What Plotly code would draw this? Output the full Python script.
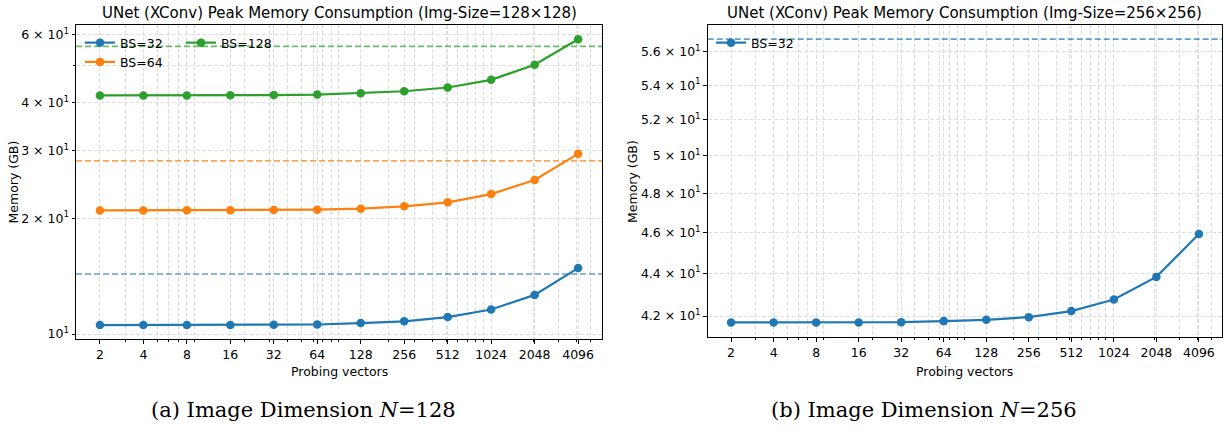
import math
import plotly.graph_objects as go

# Probing vector counts (x axis) and their tick labels
probes = [2, 4, 8, 16, 32, 64, 128, 256, 512, 1024, 2048, 4096]
probe_labels = [str(p) for p in probes]

# Peak memory (GB), image size 128x128
mem128_bs32 = [10.55, 10.55, 10.55, 10.56, 10.57, 10.59, 10.68, 10.79, 11.07, 11.58, 12.64, 14.84]
mem128_bs64 = [20.96, 20.96, 20.97, 20.98, 21.00, 21.05, 21.18, 21.48, 22.00, 23.11, 25.15, 29.40]
mem128_bs128 = [41.70, 41.70, 41.71, 41.72, 41.80, 41.91, 42.25, 42.76, 43.72, 45.78, 50.11, 58.35]
# Reference memory levels (dashed lines), image size 128x128: BS=32, BS=64, BS=128
ref128 = [14.32, 28.18, 55.94]

# Peak memory (GB), image size 256x256
mem256_bs32 = [41.71, 41.71, 41.71, 41.71, 41.72, 41.77, 41.83, 41.95, 42.23, 42.76, 43.83, 45.92]
ref256 = [56.77]

series_names = ["BS=32", "BS=64", "BS=128"]
colors = ["#1f77b4", "#ff7f0e", "#2ca02c"]
ref_colors = ["rgba(31,119,180,0.7)", "rgba(255,127,14,0.7)", "rgba(44,160,44,0.7)"]

# Y tick values / labels
yticks_128 = [10, 20, 30, 40, 60]
yticklabels_128 = ["10<sup>1</sup>", "2 × 10<sup>1</sup>", "3 × 10<sup>1</sup>",
                   "4 × 10<sup>1</sup>", "6 × 10<sup>1</sup>"]
yminor_128 = [50]
yticks_256 = [42, 44, 46, 48, 50, 52, 54, 56]
yticklabels_256 = ["4.2 × 10<sup>1</sup>", "4.4 × 10<sup>1</sup>", "4.6 × 10<sup>1</sup>",
                   "4.8 × 10<sup>1</sup>", "5 × 10<sup>1</sup>", "5.2 × 10<sup>1</sup>",
                   "5.4 × 10<sup>1</sup>", "5.6 × 10<sup>1</sup>"]

titles = ["UNet (XConv) Peak Memory Consumption (Img-Size=128×128)",
          "UNet (XConv) Peak Memory Consumption (Img-Size=256×256)"]
captions = ["(a) Image Dimension <i>N</i>=128", "(b) Image Dimension <i>N</i>=256"]

W, H = 1231, 430
FONT = "DejaVu Sans"


def log_range(vals, pad=0.05):
    lo, hi = math.log10(min(vals)), math.log10(max(vals))
    span = hi - lo
    return [lo - pad * span, hi + pad * span]


# minor x grid: 2..9 x 10^k inside the axis range
xr = log_range(probes)
xminor = [m * 10 ** k for k in range(0, 4) for m in range(2, 10)
          if xr[0] <= math.log10(m * 10 ** k) <= xr[1]]

yr1 = log_range(mem128_bs32 + mem128_bs64 + mem128_bs128 + ref128)
yr2 = log_range(mem256_bs32 + ref256)

# axes boxes (paper fractions)
dom_x1 = [76 / W, 602 / W]
dom_x2 = [707.7 / W, 1222.3 / W]
dom_y1 = [1 - 339.4 / H, 1 - 25 / H]
dom_y2 = [1 - 336.6 / H, 1 - 25 / H]

fig = go.Figure()

left_series = [mem128_bs32, mem128_bs64, mem128_bs128]
left_legends = ["legend", "legend", "legend2"]
for name, vals, c, lg in zip(series_names, left_series, colors, left_legends):
    fig.add_trace(go.Scatter(
        x=probes, y=vals, name=name, mode="lines+markers",
        line=dict(color=c, width=2.2), marker=dict(color=c, size=8.5),
        xaxis="x", yaxis="y", legend=lg))
for ref, rc in zip(ref128, ref_colors):
    fig.add_trace(go.Scatter(
        x=[10 ** xr[0], 10 ** xr[1]], y=[ref, ref], mode="lines",
        line=dict(color=rc, width=1.6, dash="6px,3px"),
        xaxis="x", yaxis="y", showlegend=False, hoverinfo="skip"))

fig.add_trace(go.Scatter(
    x=probes, y=mem256_bs32, name=series_names[0], mode="lines+markers",
    line=dict(color=colors[0], width=2.2), marker=dict(color=colors[0], size=8.5),
    xaxis="x2", yaxis="y2", legend="legend3"))
fig.add_trace(go.Scatter(
    x=[10 ** xr[0], 10 ** xr[1]], y=[ref256[0], ref256[0]], mode="lines",
    line=dict(color=ref_colors[0], width=1.6, dash="6px,3px"),
    xaxis="x2", yaxis="y2", showlegend=False, hoverinfo="skip"))

grid_color = "#dedede"
tickfont = dict(family=FONT, size=12.5, color="#000")


def xaxis_cfg(domain, anchor):
    return dict(
        domain=domain, anchor=anchor, type="log", range=xr,
        tickvals=probes, ticktext=probe_labels, tickfont=tickfont,
        ticks="outside", ticklen=4, tickwidth=1, tickcolor="#000",
        showgrid=True, gridcolor=grid_color, gridwidth=1, griddash="4px,2px",
        minor=dict(tickvals=xminor, ticks="outside", ticklen=2, tickwidth=0.8,
                   tickcolor="#000", showgrid=True, gridcolor=grid_color,
                   gridwidth=1, griddash="4px,2px"),
        showline=True, linecolor="#000", linewidth=1, mirror=True,
        zeroline=False, automargin=False)


def yaxis_cfg(domain, anchor, rng, tv, tt, minor_vals):
    cfg = dict(
        domain=domain, anchor=anchor, type="log", range=rng,
        tickvals=tv, ticktext=tt, tickfont=tickfont,
        ticks="outside", ticklen=3.5, tickwidth=1, tickcolor="#000",
        showgrid=True, gridcolor=grid_color, gridwidth=1, griddash="4px,2px",
        showline=True, linecolor="#000", linewidth=1, mirror=True,
        zeroline=False, automargin=False)
    if minor_vals:
        cfg["minor"] = dict(tickvals=minor_vals, ticks="outside", ticklen=2,
                            tickcolor="#000", showgrid=True, gridcolor=grid_color,
                            gridwidth=1, griddash="4px,2px")
    return cfg


legend_common = dict(bgcolor="rgba(0,0,0,0)", borderwidth=0,
                     font=dict(family=FONT, size=12.5, color="#000"),
                     xanchor="left", yanchor="top", tracegroupgap=0, itemwidth=30)

annotations = []
for dom, title in zip([dom_x1, dom_x2], titles):
    annotations.append(dict(text=title, x=(dom[0] + dom[1]) / 2, y=1 - 12.5 / H,
                            xref="paper", yref="paper", showarrow=False,
                            xanchor="center", yanchor="middle",
                            font=dict(family=FONT, size=15, color="#000")))
    annotations.append(dict(text="Probing vectors", x=(dom[0] + dom[1]) / 2, y=1 - 371 / H,
                            xref="paper", yref="paper", showarrow=False,
                            xanchor="center", yanchor="middle",
                            font=dict(family=FONT, size=12.5, color="#000")))
for xpos in [13.5 / W, 633 / W]:
    annotations.append(dict(text="Memory (GB)", x=xpos, y=1 - 182 / H,
                            xref="paper", yref="paper", showarrow=False, textangle=-90,
                            xanchor="center", yanchor="middle",
                            font=dict(family=FONT, size=12.5, color="#000")))
for xc, cap in zip([303 / W, 924 / W], captions):
    annotations.append(dict(text=cap, x=xc, y=1 - 410 / H,
                            xref="paper", yref="paper", showarrow=False,
                            xanchor="center", yanchor="middle",
                            font=dict(family="DejaVu Serif", size=21, color="#000")))

fig.update_layout(
    width=W, height=H, margin=dict(l=0, r=0, t=0, b=0),
    paper_bgcolor="#fff", plot_bgcolor="#fff", template="none",
    font=dict(family=FONT, color="#000"),
    xaxis=xaxis_cfg(dom_x1, "y"),
    yaxis=yaxis_cfg(dom_y1, "x", yr1, yticks_128, yticklabels_128, yminor_128),
    xaxis2=xaxis_cfg(dom_x2, "y2"),
    yaxis2=yaxis_cfg(dom_y2, "x2", yr2, yticks_256, yticklabels_256, None),
    legend=dict(legend_common, x=80 / W, y=1 - 28 / H),
    legend2=dict(legend_common, x=181 / W, y=1 - 28 / H),
    legend3=dict(legend_common, x=711 / W, y=1 - 28 / H),
    annotations=annotations,
    showlegend=True,
)

fig.write_html("out.html")
